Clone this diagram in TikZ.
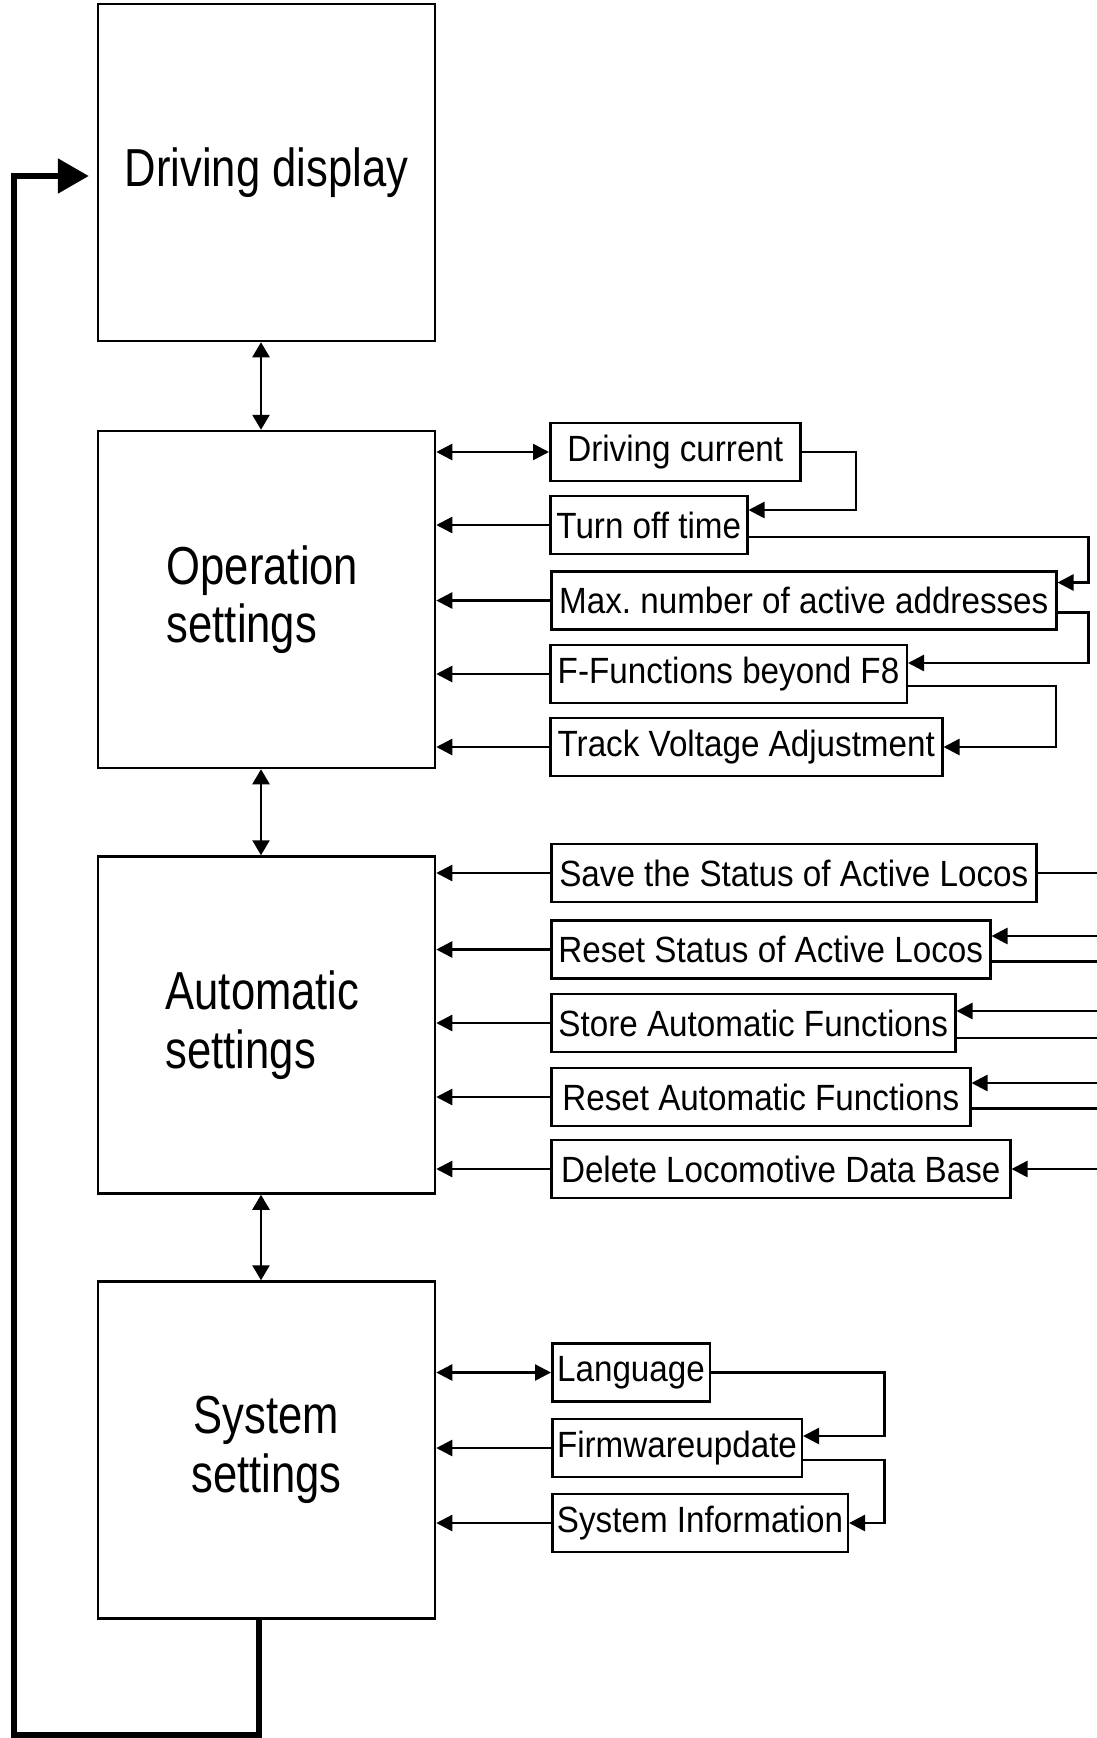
\documentclass[tikz,border=0pt]{standalone}
\usepackage{fontspec}
\newfontfamily\boxfont[FakeStretch=0.815]{Liberation Sans}
\newfontfamily\itemfont[FakeStretch=0.91]{Liberation Sans}
\usepackage{tikz}
\usetikzlibrary{arrows.meta}

\begin{document}
\begin{tikzpicture}[x=1pt, y=-1pt, line width=2.5pt]
            \useasboundingbox (0,0) rectangle (1096,1738);

            \tikzstyle{myBox}=[draw, minimum width=337pt, minimum height=337pt, inner sep=0pt, font=\boxfont\fontsize{53.5}{58.5}\selectfont];
            \tikzstyle{myItem}=[draw, anchor=west, minimum height=58pt, inner sep=0pt, font=\itemfont\fontsize{36.5}{40}\selectfont];
            \tikzstyle{myTo}=[-{Triangle[length=16pt,width=16pt]}];
            \tikzstyle{myFrom}=[{Triangle[length=16pt,width=16pt]}-];
            \tikzstyle{myBoth}=[{Triangle[length=16pt,width=16pt]}-{Triangle[length=16pt,width=16pt]}];
            \tikzstyle{myStep}=[{Triangle[length=15pt,width=17pt]}-{Triangle[length=15pt,width=17pt]}];
            \tikzstyle{myLoop}=[line width=5.6pt, -{Triangle[length=31pt,width=34pt]}, shorten >=8pt];

            % main menus
            \node[myBox] (disp) at (266.5,172.5) {Driving display};
            \node[myBox, align=left] (op) at (266.5,599.5) {\hspace*{-8pt}Operation\\\hspace*{-8pt}settings};
            \node[myBox, align=left] (auto) at (266.5,1025) {\hspace*{-8pt}Automatic\\\hspace*{-8pt}settings};
            \node[myBox, align=center] (sys) at (266.5,1450) {System\\settings};
            \draw[myStep] ([xshift=-5.5pt]disp.south) -- ([xshift=-5.5pt]op.north);
            \draw[myStep] ([xshift=-5.5pt]op.south) -- ([xshift=-5.5pt]auto.north);
            \draw[myStep] ([xshift=-5.5pt]auto.south) -- ([xshift=-5.5pt]sys.north);

            % operation settings
            \node[myItem, minimum width=250pt] (cur) at (549,452) {Driving current};
            \node[myItem, minimum width=197pt] (tof) at (549,525) {Turn off time};
            \node[myItem, minimum width=505pt] (max) at (550,600.5) {Max.\ number of active addresses};
            \node[myItem, minimum width=356.5pt] (ff) at (549,674) {F-Functions beyond F8};
            \node[myItem, minimum width=392pt] (trk) at (549,747) {Track Voltage Adjustment};
            \draw[myBoth] (cur.west) -- (op.east |- cur.west);
            \foreach \n in {tof,max,ff,trk}
              \draw[myTo] (\n.west) -- (op.east |- \n.west);
            \draw[myTo] (cur.east) -- ++(54.5,0) |- ([yshift=15pt]tof.east);
            \draw[myTo] ([yshift=-12pt]tof.east) -- ++(340,0) |- ([yshift=18pt]max.east);
            \draw[myTo] ([yshift=-12pt]max.east) -- ++(31,0) |- ([yshift=11pt]ff.east);
            \draw[myTo] ([yshift=-12pt]ff.east) -- ++(148,0) |- (trk.east);

            % automatic settings
            \node[myItem, minimum width=485pt] (save) at (550,873) {Save the Status of Active Locos};
            \node[myItem, minimum width=439pt] (rst) at (550,949.5) {Reset Status of Active Locos};
            \node[myItem, minimum width=404pt] (sto) at (550,1023) {Store Automatic Functions};
            \node[myItem, minimum width=419pt] (rsf) at (550,1097) {Reset Automatic Functions};
            \node[myItem, minimum width=459pt] (del) at (550,1169) {Delete Locomotive Data Base};
            \foreach \n in {save,rst,sto,rsf,del}
              \draw[myTo] (\n.west) -- (auto.east |- \n.west);
            \draw (save.east) -- ++(80,0);
            \foreach \n/\a/\b in {rst/13.5/-12, sto/12/-15, rsf/14/-11.5} {
              \draw[myFrom] ([yshift=\a pt]\n.east) -- ++(160,0);
              \draw ([yshift=\b pt]\n.east) -- ++(160,0);
            }
            \draw[myFrom] (del.east) -- ++(100,0);

            % system settings
            \node[myItem, minimum width=157.5pt] (lang) at (551,1372.5) {Language};
            \node[myItem, minimum width=249.5pt] (fw) at (551,1448) {Firmwareupdate};
            \node[myItem, minimum width=295.5pt] (si) at (551,1523) {System Information};
            \draw[myBoth] (lang.west) -- (sys.east |- lang.west);
            \foreach \n in {fw,si}
              \draw[myTo] (\n.west) -- (sys.east |- \n.west);
            \draw[myTo] (lang.east) -- ++(173.5,0) |- ([yshift=12pt]fw.east);
            \draw[myTo] ([yshift=-12pt]fw.east) -- ++(81.5,0) |- (si.east);

            % back to the driving display
            \coordinate (corner) at (14,1735);
            \draw[myLoop] ([xshift=-7.5pt]sys.south) |- (corner) |- ([yshift=-3.5pt]disp.west);
         \end{tikzpicture}
\end{document}
